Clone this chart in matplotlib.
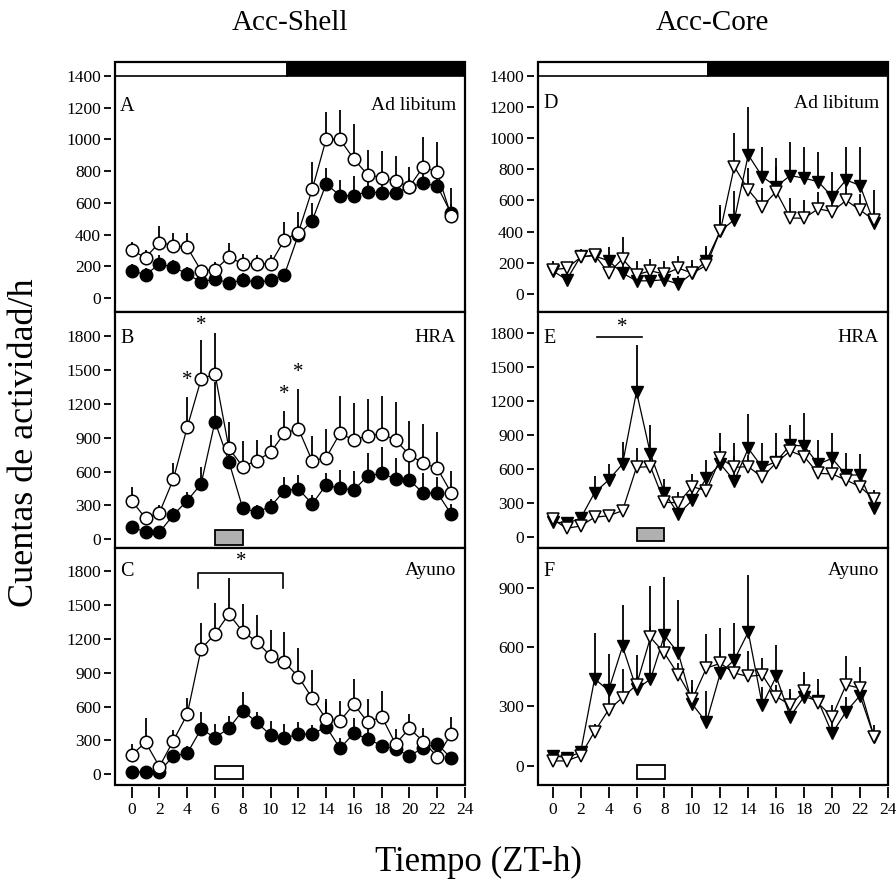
import numpy as np
import matplotlib
matplotlib.use('Agg')
import matplotlib.pyplot as plt
from matplotlib.patches import Rectangle

plt.rcParams['font.family'] = ['Liberation Serif', 'DejaVu Serif']

# Hours of the day (ZT)
zt = np.arange(24)

# Acc-Shell, ad libitum (A)
a_open = [300, 255, 350, 331, 320, 172, 178, 258, 216, 216, 216, 367, 413, 685, 1000, 1000, 876, 776, 759, 738, 702, 828, 792, 518]
a_open_sem = [56, 49, 101, 78, 89, 38, 52, 92, 63, 56, 56, 115, 132, 170, 174, 184, 220, 157, 170, 159, 122, 189, 189, 178]
a_closed = [172, 147, 214, 195, 153, 99, 122, 94, 115, 99, 111, 147, 398, 488, 719, 646, 646, 671, 660, 660, 702, 723, 706, 534]
a_closed_sem = [40, 40, 60, 45, 40, 30, 35, 30, 45, 35, 35, 35, 60, 110, 100, 98, 125, 70, 60, 60, 50, 60, 60, 60]

# Acc-Shell, HRA (B)
b_open = [342, 186, 236, 531, 992, 1417, 1464, 806, 643, 696, 770, 938, 980, 693, 723, 938, 879, 918, 932, 879, 747, 673, 629, 413]
b_open_sem = [124, 24, 68, 142, 265, 348, 360, 236, 227, 183, 154, 201, 351, 222, 251, 331, 331, 321, 337, 340, 304, 348, 324, 192]
b_closed = [112, 62, 62, 215, 342, 490, 1042, 688, 274, 242, 289, 431, 446, 313, 481, 451, 437, 561, 584, 534, 525, 407, 413, 224]
b_closed_sem = [40, 30, 30, 60, 80, 153, 354, 150, 60, 60, 70, 124, 124, 80, 103, 163, 171, 200, 236, 183, 170, 177, 142, 89]

# Acc-Shell, ayuno (C)
c_open = [171, 283, 68, 298, 531, 1110, 1242, 1419, 1263, 1175, 1048, 992, 865, 673, 490, 472, 620, 460, 511, 269, 407, 289, 156, 357]
c_open_sem = [95, 219, 32, 94, 148, 227, 272, 316, 242, 236, 230, 265, 256, 251, 174, 177, 224, 204, 230, 129, 124, 118, 44, 153]
c_closed = [24, 18, 24, 162, 186, 401, 325, 407, 564, 460, 348, 319, 357, 354, 422, 230, 363, 313, 254, 224, 162, 236, 269, 142]
c_closed_sem = [26, 22, 26, 38, 64, 154, 121, 112, 168, 95, 124, 127, 103, 83, 221, 89, 139, 109, 46, 36, 38, 64, 51, 38]

# Acc-Core, ad libitum (D)
d_open = [156, 166, 235, 252, 134, 226, 124, 149, 128, 166, 134, 184, 405, 817, 668, 561, 657, 487, 487, 546, 529, 600, 540, 472]
d_open_sem = [53, 22, 53, 32, 40, 137, 89, 77, 85, 75, 86, 121, 167, 214, 139, 118, 160, 128, 117, 111, 100, 100, 100, 60]
d_closed = [149, 92, 241, 245, 213, 134, 85, 85, 92, 64, 134, 213, 405, 476, 892, 753, 689, 760, 743, 721, 625, 732, 696, 455]
d_closed_sem = [50, 50, 43, 43, 86, 60, 50, 50, 50, 50, 60, 81, 156, 186, 309, 192, 182, 213, 202, 192, 160, 213, 249, 213]

# Acc-Core, HRA (E)
e_open = [153, 74, 94, 171, 185, 229, 612, 618, 303, 300, 441, 406, 691, 612, 618, 524, 653, 756, 706, 559, 553, 500, 441, 332]
e_open_sem = [60, 30, 40, 40, 40, 40, 167, 120, 60, 97, 112, 100, 100, 100, 100, 100, 100, 100, 100, 100, 100, 100, 100, 80]
e_closed = [132, 118, 162, 388, 500, 641, 1279, 729, 388, 200, 323, 515, 641, 494, 779, 612, 662, 809, 800, 641, 691, 544, 544, 250]
e_closed_sem = [38, 22, 38, 147, 141, 197, 412, 256, 118, 60, 77, 161, 277, 329, 300, 211, 250, 176, 288, 212, 227, 197, 185, 80]

# Acc-Core, ayuno (F)
f_open = [24, 24, 51, 173, 283, 345, 409, 650, 570, 460, 338, 494, 519, 469, 452, 460, 350, 308, 376, 316, 249, 409, 393, 147]
f_open_sem = [10, 10, 15, 40, 80, 146, 153, 60, 60, 60, 60, 173, 60, 60, 127, 85, 60, 60, 60, 60, 60, 148, 109, 60]
f_closed = [51, 41, 68, 440, 381, 604, 389, 438, 660, 570, 311, 220, 469, 536, 677, 308, 452, 249, 350, 328, 164, 274, 355, 147]
f_closed_sem = [9, 9, 12, 232, 184, 212, 61, 471, 294, 271, 124, 156, 228, 186, 291, 93, 161, 138, 127, 112, 86, 76, 75, 13]

xticks = np.arange(0, 25, 2)
lights_off = 11.15

W, H = 896, 889
fig = plt.figure(figsize=(W / 100, H / 100), dpi=100)

# panel boxes in pixels: (left, top, right, bottom)
rows = [(62, 312), (312, 548), (548, 785)]
cols = [(115, 465), (538, 888)]


def make_ax(col, row):
    x0, x1 = cols[col]
    y0, y1 = rows[row]
    return fig.add_axes([x0 / W, 1 - y1 / H, (x1 - x0) / W, (y1 - y0) / H])


def draw_panel(ax, openv, opensem, closedv, closedsem, marker, ylim, yticks,
               letter, cond, xlim, letter_y, bottom=False):
    ms = 9 if marker == 'o' else 8
    ax.errorbar(zt, closedv, yerr=[np.zeros(24), closedsem], fmt='none',
                ecolor='black', elinewidth=1.3, capsize=0, zorder=2)
    ax.plot(zt, closedv, '-', marker=marker, color='black', mfc='black',
            mec='black', ms=ms, lw=0.9, zorder=3)
    ax.errorbar(zt, openv, yerr=[np.zeros(24), opensem], fmt='none',
                ecolor='black', elinewidth=1.3, capsize=0, zorder=4)
    ax.plot(zt, openv, '-', marker=marker, color='black', mfc='white',
            mec='black', mew=1.1, ms=ms, lw=0.9, zorder=5)

    ax.set_xlim(*xlim)
    ax.set_ylim(*ylim)
    ax.set_yticks(yticks)
    for s in ax.spines.values():
        s.set_visible(False)
    ax.spines['left'].set_position(('outward', 3))
    ax.spines['bottom'].set_position(('outward', 1.5))
    ax.add_patch(Rectangle((0, 0), 1, 1, transform=ax.transAxes, fill=False,
                           lw=1.6, ec='black', clip_on=False, zorder=10))
    ax.tick_params(axis='y', direction='out', length=5, width=1.3,
                   labelsize=12.5, pad=2)
    if bottom:
        ax.set_xticks(xticks)
        ax.tick_params(axis='x', direction='out', length=8, width=1.3,
                       labelsize=12.5, pad=3)
    else:
        ax.set_xticks([])
    ax.text(0.015, letter_y, letter, transform=ax.transAxes, ha='left',
            va='top', fontsize=14.5)
    ax.text(0.975, letter_y, cond, transform=ax.transAxes, ha='right',
            va='top', fontsize=14)


def light_bar(ax, top):
    xmin, xmax = ax.get_xlim()
    ax.add_patch(Rectangle((xmin, 1400), lights_off - xmin, top - 1400,
                           fc='white', ec='black', lw=1.2, zorder=6))
    ax.add_patch(Rectangle((lights_off, 1400), xmax - lights_off, top - 1400,
                           fc='black', ec='black', lw=1.2, zorder=6))


xl_left = (-1.2, 24.0)
xl_right = (-1.05, 24.0)
t1400 = np.arange(0, 1401, 200)
t1800 = np.arange(0, 1801, 300)

axA = make_ax(0, 0)
draw_panel(axA, a_open, a_open_sem, a_closed, a_closed_sem, 'o', (-88, 1488),
           t1400, 'A', 'Ad libitum', xl_left, 0.86)
light_bar(axA, 1488)

axB = make_ax(0, 1)
draw_panel(axB, b_open, b_open_sem, b_closed, b_closed_sem, 'o', (-77, 2012),
           t1800, 'B', 'HRA', xl_left, 0.93)
axB.add_patch(Rectangle((6, -50), 2, 133, fc='#b0b0b0', ec='black', lw=1.3, zorder=6))
for sx, sy in [(4, 1410), (5, 1889), (11, 1278), (12, 1475)]:
    axB.text(sx, sy, '*', ha='center', va='center', fontsize=15, zorder=7)

axC = make_ax(0, 2)
draw_panel(axC, c_open, c_open_sem, c_closed, c_closed_sem, 'o', (-95, 2004),
           t1800, 'C', 'Ayuno', xl_left, 0.94, bottom=True)
axC.add_patch(Rectangle((6, -44), 2, 121, fc='white', ec='black', lw=1.3, zorder=6))
axC.plot([4.8, 4.8, 10.9, 10.9], [1653, 1780, 1780, 1653], color='black', lw=1.2)
axC.text(7.9, 1885, '*', ha='center', va='center', fontsize=15)

axD = make_ax(1, 0)
draw_panel(axD, d_open, d_open_sem, d_closed, d_closed_sem, 'v', (-115, 1488),
           t1400, 'D', 'Ad libitum', xl_right, 0.87)
light_bar(axD, 1488)

axE = make_ax(1, 1)
draw_panel(axE, e_open, e_open_sem, e_closed, e_closed_sem, 'v', (-100, 1983),
           t1800, 'E', 'HRA', xl_right, 0.93)
axE.add_patch(Rectangle((6, -35), 2, 109, fc='#b0b0b0', ec='black', lw=1.3, zorder=6))
axE.plot([3.2, 6.4], [1765, 1765], color='black', lw=1.2)
axE.text(4.95, 1850, '*', ha='center', va='center', fontsize=15)

axF = make_ax(1, 2)
draw_panel(axF, f_open, f_open_sem, f_closed, f_closed_sem, 'v', (-98, 1103),
           [0, 300, 600, 900], 'F', 'Ayuno', xl_right, 0.94, bottom=True)
axF.add_patch(Rectangle((6, -69), 2.05, 72, fc='white', ec='black', lw=1.3, zorder=6))

fig.text(290 / W, 1 - 23 / H, 'Acc-Shell', ha='center', va='center', fontsize=21)
fig.text(712 / W, 1 - 23 / H, 'Acc-Core', ha='center', va='center', fontsize=21)
fig.text(25 / W, 1 - 443 / H, 'Cuentas de actividad/h', rotation=90,
         ha='center', va='center', fontsize=26)
fig.text(478 / W, 1 - 862 / H, 'Tiempo (ZT-h)', ha='center', va='center', fontsize=25)

fig.savefig('out.png', dpi=100)
